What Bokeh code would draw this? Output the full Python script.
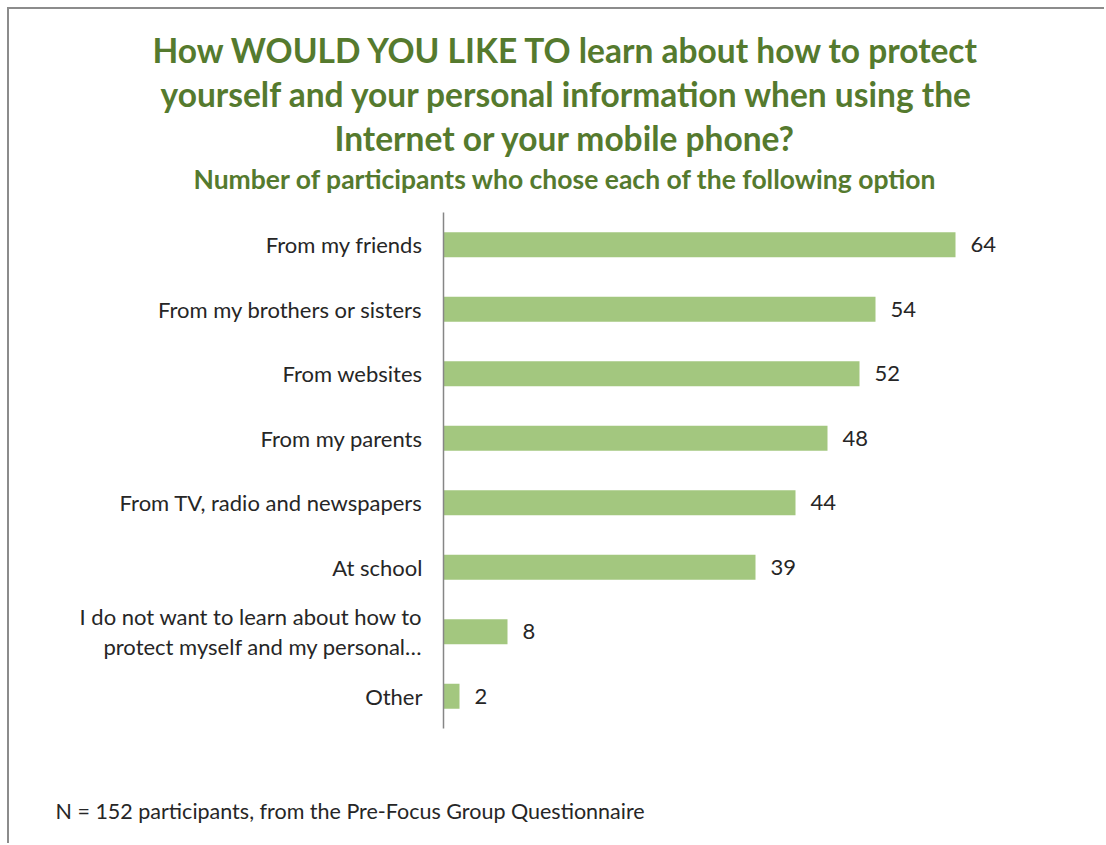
from bokeh.plotting import figure
from bokeh.models import Range1d, FactorRange, Title, ColumnDataSource
from bokeh.core.properties import value
from bokeh.embed import file_html
from bokeh.resources import INLINE

categories = [
    "From my friends",
    "From my brothers or sisters",
    "From websites",
    "From my parents",
    "From TV, radio and newspapers",
    "At school",
    "I do not want to learn about how to\nprotect myself and my personal\u2026",
    "Other",
]
counts = [64, 54, 52, 48, 44, 39, 8, 2]
value_labels = [str(c) for c in counts]

title_lines = [
    "How WOULD YOU LIKE TO learn about how to protect",
    "yourself and your personal information when using the",
    "Internet or your mobile phone?",
]
subtitle = "Number of participants who chose each of the following option"
footnote = "N = 152 participants, from the Pre-Focus Group Questionnaire"

FONT = "Lato"
GREEN_TXT = "#557a2e"
BAR = "#a3c77f"

OFF = 9  # page offset of the canvas (margin + border)
W, H = 1106 - OFF, 845 - OFF
PL, PT, PR, PB = 443, 212, 1043, 728   # frame edges in page pixels

p = figure(
    width=W, height=H,
    x_range=Range1d(0, 75),
    y_range=FactorRange(factors=list(reversed(categories)), range_padding=0),
    output_backend="svg", toolbar_location=None,
    min_border_left=PL - OFF, min_border_right=1106 - PR,
    min_border_top=PT - OFF, min_border_bottom=845 - PB,
)
p.margin = (7, 0, 0, 7)
p.styles = {"border-top": "2px solid #8c8c8c", "border-left": "2px solid #8c8c8c"}
p.outline_line_color = None
p.background_fill_color = "white"
p.border_fill_color = "white"
p.xgrid.visible = False
p.ygrid.visible = False
p.xaxis.visible = False

ya = p.yaxis[0]
ya.axis_line_color = "#868686"
ya.axis_line_width = 1.5
ya.major_tick_line_color = None
ya.minor_tick_line_color = None
ya.major_label_text_font = FONT
ya.major_label_text_font_size = "22px"
ya.major_label_text_color = "#262626"
ya.major_label_text_line_height = 1.1
ya.major_label_standoff = 15

src = ColumnDataSource(dict(y=categories, v=counts, lab=value_labels))
p.hbar(y="y", left=0, right="v", height=0.39, source=src,
       fill_color=BAR, line_color=None)
p.text(x="v", y="y", text="lab", source=src, x_offset=15,
       text_baseline="middle", text_align="left",
       text_font=value(FONT), text_font_size="22px", text_color="#262626")

# titles: added nearest-to-frame first
p.add_layout(Title(text=subtitle, align="left", offset=193 - PL,
                   text_font=FONT, text_font_style="bold", text_font_size="26.5px",
                   text_color=GREEN_TXT, standoff=36), "above")
lefts = [152, 160, 334]
standoffs = [-30, 34, -30]
for t, lx, so in reversed(list(zip(title_lines, lefts, standoffs))):
    p.add_layout(Title(text=t, align="left", offset=lx - PL,
                       text_font=FONT, text_font_style="bold", text_font_size="33.5px",
                       text_color=GREEN_TXT, standoff=so), "above")

# footnote below the chart, pushed down by a spacer panel
p.add_layout(Title(text=" ", text_font_size="1px", standoff=64), "below")
p.add_layout(Title(text=footnote, align="left", offset=55 - PL,
                   text_font=FONT, text_font_style="normal", text_font_size="21.5px",
                   text_color="#262626", standoff=0), "below")

open("out.html", "w").write(file_html(p, INLINE))
